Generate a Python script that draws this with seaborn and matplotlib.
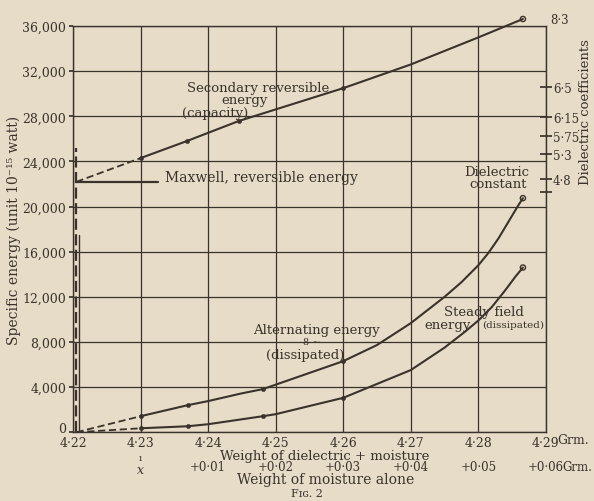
import matplotlib
matplotlib.use("Agg")
import matplotlib.pyplot as plt
import matplotlib.transforms as mtrans
import seaborn as sns
import pandas as pd

# weights of dielectric + moisture (Grm.) and energies
sec_x = [4.2205, 4.23, 4.2368, 4.2445, 4.26, 4.27, 4.28, 4.2866]
sec_y = [22200, 24300, 25800, 27580, 30500, 32600, 35000, 36630]

alt_x = [4.2205, 4.23, 4.2370, 4.24, 4.245, 4.2481, 4.26, 4.265, 4.27,
         4.275, 4.2775, 4.28, 4.2815, 4.283, 4.2845, 4.2858, 4.2866]
alt_y = [0, 1420, 2400, 2760, 3450, 3820, 6300, 7730, 9670,
         12000, 13300, 14800, 15900, 17200, 18700, 20000, 20750]

std_x = [4.2205, 4.23, 4.2370, 4.24, 4.2481, 4.25, 4.26, 4.27, 4.275,
         4.278, 4.28, 4.282, 4.284, 4.2855, 4.2866]
std_y = [0, 350, 530, 710, 1420, 1600, 3050, 5510, 7500,
         8900, 9900, 11100, 12600, 13800, 14600]

# readings that carry a dot on the original
alt_dots = [4.23, 4.2370, 4.2481, 4.26]
std_dots = [4.23, 4.2370, 4.2481, 4.26]
sec_dots = [4.23, 4.2368, 4.2445, 4.26]

x_ticks = [4.22, 4.23, 4.24, 4.25, 4.26, 4.27, 4.28, 4.29]
x_labels = ["4·22", "4·23", "4·24", "4·25", "4·26", "4·27", "4·28", "4·29"]
moist_ticks = [4.24, 4.25, 4.26, 4.27, 4.28, 4.29]
moist_labels = ["+0·01", "+0·02", "+0·03", "+0·04", "+0·05", "+0·06"]
y_ticks = [0, 4000, 8000, 12000, 16000, 20000, 24000, 28000, 32000, 36000]
y_labels = ["0", "4,000", "8,000", "12,000", "16,000", "20,000", "24,000",
            "28,000", "32,000", "36,000"]
diel_ticks = [30600, 27940, 26250, 24660, 22440, 21300]
diel_labels = ["6·5", "6·15", "5·75", "5·3", "4·8", ""]
maxwell_y = 22200

paper = "#e7dcc7"
ink = "#3a332b"

sns.set_theme(style="white")
plt.rcParams["font.family"] = ["DejaVu Serif"]
plt.rcParams["text.color"] = ink

fig = plt.figure(figsize=(5.94, 5.02), dpi=100, facecolor=paper)
ax = fig.add_axes([0.123, 0.137, 0.796, 0.809])
ax.set_facecolor(paper)

curves = [
    (pd.DataFrame({"x": sec_x, "y": sec_y}), sec_dots),
    (pd.DataFrame({"x": alt_x, "y": alt_y}), alt_dots),
    (pd.DataFrame({"x": std_x, "y": std_y}), std_dots),
]

for df, dots in curves:
    # dashed stretch from the dry weight to the first reading
    sns.lineplot(data=df.iloc[:2], x="x", y="y", ax=ax, color=ink, lw=1.3,
                 linestyle=(0, (4, 2)), clip_on=False)
    sns.lineplot(data=df.iloc[1:], x="x", y="y", ax=ax, color=ink, lw=1.5,
                 clip_on=False, sort=False)
    pts = df[df["x"].isin(dots)]
    sns.scatterplot(data=pts, x="x", y="y", ax=ax, color=ink, s=10,
                    edgecolor=ink, zorder=5, clip_on=False)
    sns.scatterplot(data=df.iloc[-1:], x="x", y="y", ax=ax, facecolor="none",
                    edgecolor=ink, s=14, lw=1, zorder=5, clip_on=False)

# dry-weight vertical and Maxwell level
ax.plot([4.2205, 4.2205], [0, 25200], color=ink, lw=1.6, linestyle=(0, (5, 2)))
ax.plot([4.2209, 4.2209], [0, 17500], color=ink, lw=1.0)
ax.plot([4.2205, 4.2326], [maxwell_y, maxwell_y], color=ink, lw=1.6)

ax.set_xlim(4.22, 4.29)
ax.set_ylim(0, 36000)
ax.set_xticks(x_ticks)
ax.set_xticklabels(x_labels)
ax.set_yticks(y_ticks)
ax.set_yticklabels(y_labels)
ax.grid(True, color=ink, lw=0.9)
ax.tick_params(axis="both", colors=ink, labelsize=9, length=3, direction="out",
               pad=2)
ax.tick_params(axis="x", pad=0)
for s in ax.spines.values():
    s.set_color(ink)
    s.set_linewidth(1.0)
# lift the "0" a little clear of the 4·22 label
zero = ax.get_yticklabels()[0]
zero.set_transform(zero.get_transform() +
                   mtrans.ScaledTranslation(0, 4 / 72, fig.dpi_scale_trans))
ax.set_xlabel("")
ax.set_ylabel("Specific energy (unit 10⁻¹⁵ watt)", fontsize=10, color=ink,
              labelpad=1)

# right-hand dielectric coefficient scale
ax2 = ax.twinx()
ax2.set_ylim(0, 36000)
ax2.set_yticks(diel_ticks)
ax2.set_yticklabels(diel_labels)
ax2.tick_params(axis="y", colors=ink, labelsize=8.5, length=8,
                direction="inout", pad=1)
for s in ax2.spines.values():
    s.set_visible(False)
ax2.text(4.2906, 36600, "8·3", fontsize=8.5, va="center", ha="left",
         color=ink, clip_on=False)
ax2.set_ylabel("Dielectric coefficients", fontsize=9.5, color=ink)
ax2.yaxis.set_label_coords(1.07, 0.79)
ax2.grid(False)

# curve labels
ax.text(4.2369, 30590, "Secondary reversible", fontsize=9.5, va="center")
ax.text(4.2454, 29530, "energy", fontsize=9.5, va="center", ha="center")
ax.text(4.2410, 28370, "(capacity)", fontsize=9.5, va="center", ha="center")
ax.text(4.2336, 22610, "Maxwell, reversible energy", fontsize=10, va="center")
ax.text(4.2827, 23140, "Dielectric", fontsize=9.5, va="center", ha="center")
ax.text(4.2829, 22050, "constant", fontsize=9.5, va="center", ha="center")
ax.text(4.2561, 9150, "Alternating energy", fontsize=9.5, va="center",
        ha="center")
ax.text(4.2554, 8000, "8 ∼", fontsize=7, va="center", ha="center")
ax.text(4.2543, 6900, "(dissipated)", fontsize=9.5, va="center", ha="center")
ax.text(4.2808, 10730, "Steady field", fontsize=9.5, va="center", ha="center")
ax.text(4.2755, 9580, "energy", fontsize=9.5, va="center", ha="center")
ax.text(4.2852, 9580, "(dissipated)", fontsize=7.5, va="center", ha="center")

# lower scales and captions
fx = lambda v: ax.transData.transform((v, 0))[0] / fig.bbox.width
fig.text(557 / 594, 1 - 441 / 502, "Grm.", fontsize=9, va="center", ha="left")
for v, lab in zip(moist_ticks, moist_labels):
    fig.text(fx(v), 1 - 468 / 502, lab, fontsize=8.5, va="center",
             ha="center")
fig.text(fx(4.29) + 0.028, 1 - 468 / 502, "Grm.", fontsize=8.5, va="center",
         ha="left")
fig.text(fx(4.23), 1 - 459 / 502, "ı", fontsize=7, va="center", ha="center")
fig.text(fx(4.23), 1 - 471 / 502, "x", fontsize=9, va="center", ha="center",
         style="italic")
fig.text(325 / 594, 1 - 456.5 / 502, "Weight of dielectric + moisture",
         fontsize=9.5, va="center", ha="center")
fig.text(326 / 594, 1 - 480 / 502, "Weight of moisture alone",
         fontsize=10, va="center", ha="center")
fig.text(307 / 594, 1 - 489 / 502, "Fɪɢ. 2", fontsize=8, va="top",
         ha="center")

fig.savefig("out.png", dpi=100, facecolor=paper)
